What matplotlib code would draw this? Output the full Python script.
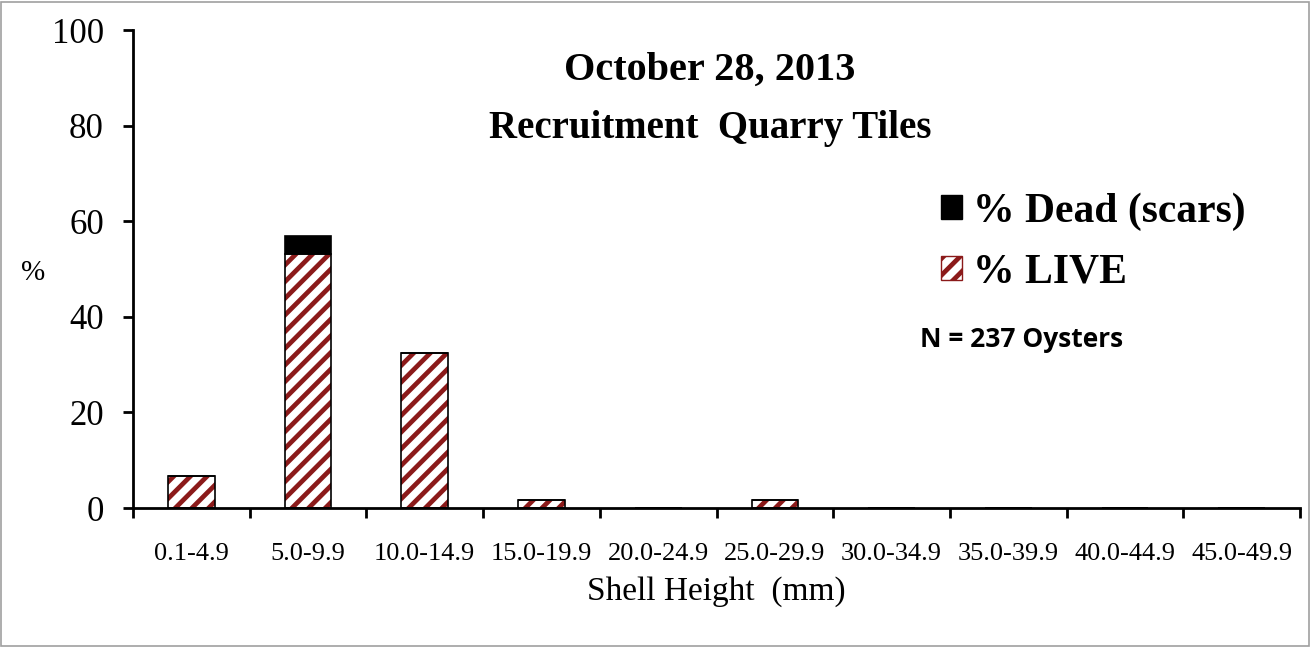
import matplotlib.pyplot as plt
from matplotlib.patches import Patch, Rectangle
import numpy as np

categories = ["0.1-4.9", "5.0-9.9", "10.0-14.9", "15.0-19.9", "20.0-24.9",
              "25.0-29.9", "30.0-34.9", "35.0-39.9", "40.0-44.9", "45.0-49.9"]
live_pct = [6.8, 53.2, 32.5, 1.7, 0.0, 1.7, 0.0, 0.0, 0.0, 0.0]
dead_pct = [0.0, 3.8, 0.0, 0.0, 0.0, 0.0, 0.0, 0.0, 0.0, 0.0]

SERIF = ["Liberation Serif", "DejaVu Serif"]
LIVE_RED = "#8b1a1a"

plt.rcParams["hatch.linewidth"] = 3.4

fig = plt.figure(figsize=(13.12, 6.47), dpi=100)
ax = fig.add_axes([0.1014, 0.2148, 0.8895, 0.7388])

x = np.arange(len(categories)) + 0.5
width = 0.40
live = np.array(live_pct)
dead = np.array(dead_pct)

# hatched fill, then a black outline on top
ax.bar(x, live, width, color="white", edgecolor=LIVE_RED, hatch="//", linewidth=0)
ax.bar(x, live, width, color="none", edgecolor="black", linewidth=1.2)
ax.bar(x, dead, width, bottom=live, color="black", edgecolor="black", linewidth=1.2)

ax.set_xlim(0, len(categories))
ax.set_ylim(0, 100)
ax.set_yticks(range(0, 101, 20))
ax.set_xticks(np.arange(len(categories) + 1))
ax.set_xticklabels([])
ax.set_xticks(x, minor=True)
ax.set_xticklabels(categories, minor=True, fontsize=19, family=SERIF)
ax.tick_params(axis="x", which="minor", length=0, pad=25)
ax.tick_params(axis="x", which="major", length=7, width=2, direction="out")
ax.tick_params(axis="y", length=7, width=2, direction="out", labelsize=25, pad=14)
for lab in ax.get_yticklabels():
    lab.set_family(SERIF)

for side in ["top", "right"]:
    ax.spines[side].set_visible(False)
for side in ["left", "bottom"]:
    ax.spines[side].set_linewidth(2)

ax.set_xlabel("Shell Height  (mm)", fontsize=24, family=SERIF, labelpad=8)
fig.text(0.016, 0.578, "%", fontsize=21, family=SERIF, va="center")

fig.text(0.541, 0.891, "October 28, 2013", fontsize=29, fontweight="bold",
         family=SERIF, ha="center", va="center")
fig.text(0.541, 0.801, "Recruitment  Quarry Tiles", fontsize=28, fontweight="bold",
         family=SERIF, ha="center", va="center")

handles = [
    Patch(facecolor="black", edgecolor="black", label="% Dead (scars)"),
    Patch(facecolor="white", edgecolor=LIVE_RED, hatch="//", label="% LIVE"),
]
leg = fig.legend(handles=handles, loc="upper left", bbox_to_anchor=(0.689, 0.761),
                 frameon=False, handlelength=0.5, handleheight=0.5,
                 handletextpad=0.25, labelspacing=0.55,
                 prop={"family": SERIF, "weight": "bold", "size": 30})
fig.text(0.701, 0.475, "N = 237 Oysters", fontsize=19, fontweight="bold",
         family=["Liberation Sans Narrow", "Open Sans", "DejaVu Sans"], va="center")

fig.patches.append(Rectangle((0.001, 0.002), 0.997, 0.995, transform=fig.transFigure,
                             fill=False, edgecolor="#a0a0a0", linewidth=1.2))

fig.savefig("out.png", dpi=100)
